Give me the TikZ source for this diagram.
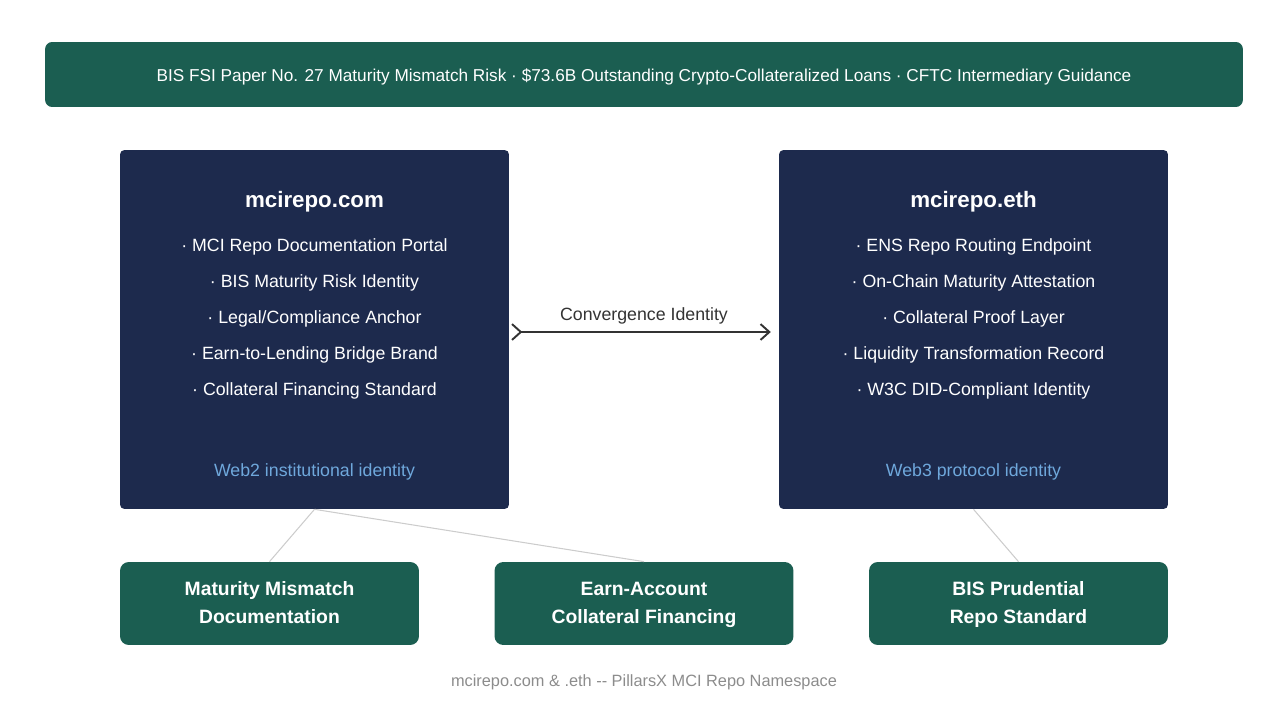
\documentclass[tikz,border=0pt]{standalone}
\usepackage{fontspec}
\setmainfont{Liberation Sans}
\usetikzlibrary{arrows.meta,positioning}
\definecolor{bannergreen}{RGB}{27,94,81}
\definecolor{navybox}{RGB}{29,42,77}
\definecolor{idblue}{RGB}{111,168,220}
\definecolor{linkgray}{RGB}{204,204,204}
\definecolor{footgray}{RGB}{140,140,140}
\definecolor{arrowgray}{RGB}{51,51,51}

\begin{document}
\begin{tikzpicture}[x=0.02cm, y=-0.02cm,
    every node/.style={font=\fontsize{10.1}{12}\selectfont, inner sep=0pt},
    banner/.style={fill=bannergreen, rounded corners=4pt, minimum width=23.96cm, minimum height=1.30cm},
    domainbox/.style={fill=navybox, rounded corners=2.5pt, minimum width=7.78cm, minimum height=7.18cm},
    topicbox/.style={fill=bannergreen, rounded corners=5pt, minimum width=5.98cm, minimum height=1.66cm,
      text=white, align=center, font=\bfseries\fontsize{11}{16}\selectfont},
    boxtitle/.style={text=white, font=\bfseries\fontsize{12.7}{15}\selectfont},
    bullet/.style={text=white},
    idlabel/.style={text=idblue},
    link/.style={linkgray, line width=0.6pt}]
        \useasboundingbox (0,0) rectangle (1288,719);

        % top banner
        \node[banner] (banner) at (644,74.5) {};
        \node[text=white, font=\fontsize{9.8}{12}\selectfont] at (644,77)
          {BIS FSI Paper No. 27 Maturity Mismatch Risk · \$73.6B Outstanding Crypto-Collateralized Loans · CFTC Intermediary Guidance};

        % two domain boxes
        \node[domainbox] (dotcom) at (314.5,329.5) {};
        \node[domainbox] (doteth) at (973.5,329.5) {};
        \node[boxtitle] at (314.5,202) {mcirepo.com};
        \node[boxtitle] at (973.5,202) {mcirepo.eth};
        \foreach \txt [count=\i] in {{MCI Repo Documentation Portal}, {BIS Maturity Risk Identity},
            {Legal/Compliance Anchor}, {Earn-to-Lending Bridge Brand}, {Collateral Financing Standard}}
          \node[bullet] at (314.5,247+36*\i-36) {· \txt};
        \foreach \txt [count=\i] in {{ENS Repo Routing Endpoint}, {On-Chain Maturity Attestation},
            {Collateral Proof Layer}, {Liquidity Transformation Record}, {W3C DID-Compliant Identity}}
          \node[bullet] at (973.5,247+36*\i-36) {· \txt};
        \node[idlabel] at (314.5,472) {Web2 institutional identity};
        \node[idlabel] at (973.5,472) {Web3 protocol identity};

        % convergence arrow
        \draw[{Straight Barb[reversed,length=5pt,width=9pt]}-{Straight Barb[length=5pt,width=9pt]},
          arrowgray, line width=1.1pt, shorten <=1pt, shorten >=4.5pt]
          ([yshift=-0.05cm]dotcom.east) -- ([yshift=-0.05cm]doteth.west)
          node[midway, above=4pt, text=arrowgray] {Convergence Identity};

        % bottom topic boxes
        \node[topicbox] (mismatch) at (269.5,603.5) {\rule{0pt}{11.3pt}Maturity Mismatch\\Documentation\strut};
        \node[topicbox] (earnacct) at (644,603.5) {\rule{0pt}{11.3pt}Earn-Account\\Collateral Financing\strut};
        \node[topicbox] (prudent) at (1018.5,603.5) {\rule{0pt}{11.3pt}BIS Prudential\\Repo Standard\strut};

        % thin links
        \draw[link] (dotcom.south) -- (mismatch.north);
        \draw[link] (dotcom.south) -- (earnacct.north);
        \draw[link] (doteth.south) -- (prudent.north);

        % footer
        \node[text=footgray, font=\fontsize{9.3}{11}\selectfont] (footer) at (644,682)
          {mcirepo.com \& .eth -{}- PillarsX MCI Repo Namespace};
      \end{tikzpicture}
\end{document}
